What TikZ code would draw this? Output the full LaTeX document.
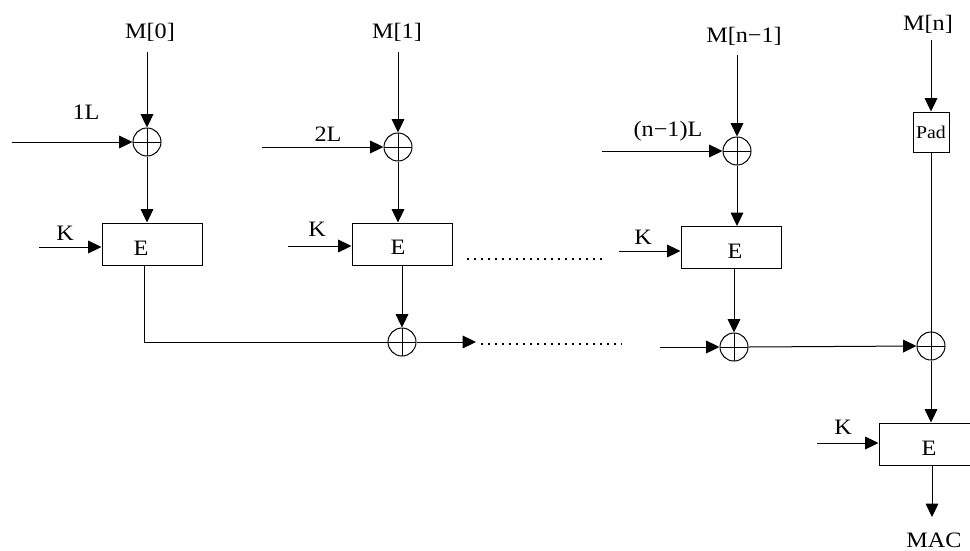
\documentclass[tikz,border=0pt]{standalone}
\usepackage{fontspec}
\setmainfont{Liberation Serif}[FakeStretch=1.1]
\usetikzlibrary{arrows.meta}
\begin{document}
\begin{tikzpicture}[x=0.75pt,y=-0.75pt,
  line width=0.75pt,
  every node/.style={inner sep=0pt,font=\fontsize{16.5}{19}\selectfont},
  arr/.style={-{Triangle[length=10pt,width=9.5pt]}},
  xor/.style={circle,draw,minimum size=21pt,inner sep=0pt,
    path picture={\draw (path picture bounding box.north) -- (path picture bounding box.south)
      (path picture bounding box.west) -- (path picture bounding box.east);}},
  ebox/.style={draw,minimum width=75pt,minimum height=31.5pt},
  padbox/.style={draw,minimum width=27pt,minimum height=30pt,font=\fontsize{13.5}{15}\selectfont},
  dots/.style={line width=1.5pt,dash pattern=on 1.5pt off 3.75pt}
]
\useasboundingbox (0,0) rectangle (970,550);
\clip (0,0) rectangle (970,550);
% column 0
\node (m0) at (150,32) {M[0]};
\node[xor] (x0) at (147,142) {};
\node (l1) at (86,112) {1L};
\coordinate (c1) at (12,142);
\node[ebox] (e0) at (152,244) {};
\node (e0t) at (141,248) {E};
\node (k0) at (65,233) {K};
\coordinate (ck0) at (39,247);
\coordinate (s0) at (147,52);
\draw[arr] (s0) -- (x0);
\draw[arr] (c1) -- (x0);
\draw[arr] (x0) -- (x0 |- e0.north);
\draw[arr] (ck0) -- (ck0 -| e0.west);
% column 1
\node (m1) at (397,32) {M[1]};
\node[xor] (x1a) at (398,147) {};
\node (l2) at (328,134) {2L};
\coordinate (c2) at (262,147);
\node[ebox] (e1) at (402,244) {};
\node (e1t) at (398,247) {E};
\node (k1) at (317,229) {K};
\coordinate (ck1) at (288,246);
\node[xor] (x1b) at (402,342) {};
\coordinate (s1) at (398,52);
\draw[arr] (s1) -- (x1a);
\draw[arr] (c2) -- (x1a);
\draw[arr] (x1a) -- (x1a |- e1.north);
\draw[arr] (ck1) -- (ck1 -| e1.west);
\draw[arr] (x1b |- e1.south) -- (x1b);
\coordinate (o0) at (144,265);
\draw (o0) |- (x1b.west);
\coordinate (a1) at (476,342);
\draw[arr] (x1b.east) -- (a1);
\coordinate (d1s) at (467,259);
\coordinate (d1e) at (607,259);
\draw[dots] (d1s) -- (d1e);
\coordinate (d2s) at (481,344);
\coordinate (d2e) at (622,344);
\draw[dots] (d2s) -- (d2e);
% column 2
\node (m2) at (744,36) {M[n−1]};
\node[xor] (x2a) at (737,151) {};
\node (l3) at (668,131) {(n−1)L};
\coordinate (c3) at (602,151);
\node[ebox] (e2) at (731,247.5) {};
\node (e2t) at (735,251) {E};
\node (k2) at (643,237) {K};
\coordinate (ck2) at (619,251);
\node[xor] (x2b) at (734,347) {};
\coordinate (c4) at (660,347);
\coordinate (s2) at (737,55);
\draw[arr] (s2) -- (x2a);
\draw[arr] (c3) -- (x2a);
\draw[arr] (x2a) -- (x2a |- e2.north);
\draw[arr] (ck2) -- (ck2 -| e2.west);
\draw[arr] (x2b |- e2.south) -- (x2b);
\draw[arr] (c4) -- (x2b);
% column 3
\node (m3) at (928,24) {M[n]};
\node[padbox] (pad) at (931,132) {Pad};
\node[xor] (x3) at (931,346) {};
\node[ebox] (e3) at (929,444) {};
\node (e3t) at (929,448) {E};
\node (k3) at (843,427) {K};
\coordinate (ck3) at (817,443);
\node (mac) at (934,540) {MAC};
\coordinate (s3) at (931,40);
\coordinate (t3) at (932,517);
\draw[arr] (s3) -- (pad.north);
\draw (pad.south) -- (x3.north);
\draw[arr] (x2b.east) -- (x3.west);
\draw[arr] (x3) -- (x3 |- e3.north);
\draw[arr] (ck3) -- (ck3 -| e3.west);
\draw[arr] (t3 |- e3.south) -- (t3);
\end{tikzpicture}
\end{document}
